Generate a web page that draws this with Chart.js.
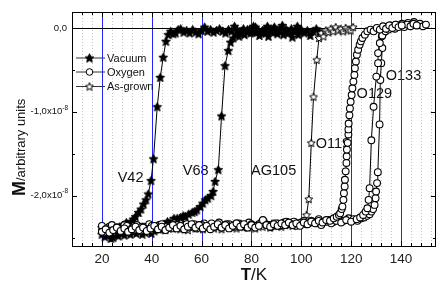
<!DOCTYPE html>
<html>
<head>
<meta charset="utf-8">
<script src="https://cdn.jsdelivr.net/npm/chart.js@4.4.1/dist/chart.umd.min.js"></script>
<style>
  html, body { margin: 0; padding: 0; background: #fff; }
  #chart { display: block; }
</style>
</head>
<body>
<canvas id="chart" width="441" height="281"></canvas>
<script>
// T in K, M in units of 1e-8 (arbitrary units)
const vacuumV42 = [[20.0,-2.38],[20.9,-2.42],[21.8,-2.39],[22.7,-2.44],[23.6,-2.41],[24.5,-2.38],[25.4,-2.43],[26.3,-2.40],[27.2,-2.37],[28.1,-2.39],[29.0,-2.35],[29.8,-2.32],[30.8,-2.34],[31.8,-2.31],[32.6,-2.28],[33.5,-2.25],[34.7,-2.20],[35.7,-2.16],[36.7,-2.10],[37.7,-2.05],[38.6,-1.98],[39.7,-1.82],[40.7,-1.56],[42.2,-0.94],[43.4,-0.59],[44.6,-0.35],[45.7,-0.16],[46.6,-0.08],[47.6,-0.04],[48.6,-0.07],[49.6,-0.06],[50.6,-0.02],[51.6,-0.01],[52.8,-0.05],[54.0,-0.03],[55.2,-0.06],[56.4,-0.02],[57.6,-0.05],[58.8,-0.07],[60.0,-0.03],[61.2,0.01],[62.4,-0.04],[63.6,-0.02],[64.8,-0.05],[66.0,-0.03],[67.2,-0.01],[68.4,-0.04],[69.6,-0.06],[70.8,-0.02],[72.0,-0.04],[73.2,0.02],[74.4,-0.03],[75.6,-0.06],[76.8,-0.01],[78.0,-0.04],[79.2,-0.02],[80.4,-0.05],[81.6,0.01],[82.8,-0.03],[84.0,-0.06],[85.2,-0.02],[86.4,0.02],[87.6,-0.04],[88.8,-0.01],[90.0,-0.05],[91.2,-0.02],[92.4,0.03],[93.6,-0.03],[94.8,-0.06],[96.0,-0.01],[97.2,-0.04],[98.4,0.02],[99.6,-0.03]];
const vacuumV68 = [[20.0,-2.46],[21.2,-2.49],[22.4,-2.47],[23.6,-2.51],[24.5,-2.50],[25.4,-2.46],[26.6,-2.48],[27.8,-2.45],[29.0,-2.47],[30.2,-2.44],[31.4,-2.46],[32.6,-2.43],[33.8,-2.45],[35.0,-2.42],[36.2,-2.46],[37.4,-2.44],[38.6,-2.41],[39.8,-2.45],[41.0,-2.42],[42.2,-2.39],[43.3,-2.40],[44.3,-2.37],[45.3,-2.34],[46.3,-2.31],[47.3,-2.32],[48.9,-2.27],[50.2,-2.27],[51.6,-2.26],[52.6,-2.24],[53.5,-2.25],[54.8,-2.22],[56.2,-2.20],[57.2,-2.19],[58.1,-2.17],[59.5,-2.13],[60.5,-2.09],[61.5,-2.05],[62.5,-2.03],[63.8,-2.00],[64.6,-1.95],[65.4,-1.83],[66.7,-1.69],[68.0,-1.05],[69.4,-0.45],[70.7,-0.27],[71.6,-0.17],[72.7,-0.12],[74.0,-0.07],[75.0,-0.10],[76.0,-0.04],[77.2,-0.08],[78.4,-0.02],[79.6,-0.06],[80.8,0.02],[82.0,-0.05],[83.2,-0.09],[84.4,-0.03],[85.6,-0.06],[86.8,-0.10],[88.0,-0.04],[89.2,0.01],[90.4,-0.07],[91.6,-0.03],[92.8,-0.08],[94.0,-0.02],[95.2,-0.05],[96.4,-0.11],[97.6,-0.04],[98.8,-0.08],[100.0,-0.02],[101.2,-0.06],[102.4,-0.03],[103.6,-0.09],[104.8,-0.04],[106.0,-0.01],[107.2,-0.05]];
const asGrownAG105 = [[20.0,-2.41],[21.5,-2.44],[23.0,-2.40],[24.5,-2.43],[26.0,-2.39],[27.5,-2.42],[29.0,-2.40],[30.5,-2.43],[32.0,-2.39],[33.5,-2.41],[35.0,-2.38],[36.5,-2.42],[38.0,-2.39],[39.5,-2.41],[41.0,-2.37],[42.5,-2.40],[44.0,-2.38],[45.5,-2.41],[47.0,-2.37],[48.5,-2.39],[50.0,-2.36],[51.5,-2.40],[53.0,-2.38],[54.5,-2.41],[56.0,-2.37],[57.5,-2.39],[59.0,-2.36],[60.5,-2.40],[62.0,-2.38],[63.5,-2.36],[65.0,-2.39],[66.5,-2.37],[68.0,-2.40],[69.5,-2.36],[71.0,-2.38],[72.5,-2.35],[74.0,-2.39],[75.5,-2.37],[77.0,-2.35],[78.5,-2.38],[80.0,-2.36],[81.5,-2.39],[83.0,-2.35],[84.5,-2.37],[86.0,-2.34],[87.5,-2.38],[89.0,-2.36],[90.5,-2.33],[92.0,-2.37],[93.5,-2.35],[95.0,-2.33],[96.5,-2.36],[98.0,-2.32],[99.5,-2.34],[100.8,-2.30],[102.1,-2.23],[103.0,-2.04],[104.0,-1.37],[104.9,-0.82],[106.2,-0.38],[107.1,-0.12],[108.0,-0.06],[108.9,-0.10],[109.8,-0.03],[110.8,-0.05],[111.8,-0.01],[112.8,-0.04],[113.8,0.01],[114.8,-0.03],[115.8,-0.01],[116.8,-0.04],[117.8,0.00],[118.8,-0.02],[119.8,-0.03],[120.8,0.01]];
const oxygenO119 = [[20.0,-2.43],[21.5,-2.40],[23.0,-2.44],[24.5,-2.41],[26.0,-2.38],[27.5,-2.42],[29.0,-2.39],[30.5,-2.43],[32.0,-2.40],[33.5,-2.37],[35.0,-2.41],[36.5,-2.38],[38.0,-2.42],[39.5,-2.39],[41.0,-2.36],[42.5,-2.40],[44.0,-2.37],[45.5,-2.41],[47.0,-2.38],[48.5,-2.35],[50.0,-2.39],[51.5,-2.36],[53.0,-2.40],[54.5,-2.37],[56.0,-2.34],[57.5,-2.38],[59.0,-2.35],[60.5,-2.39],[62.0,-2.36],[63.5,-2.40],[65.0,-2.37],[66.5,-2.34],[68.0,-2.38],[69.5,-2.35],[71.0,-2.39],[72.5,-2.36],[74.0,-2.33],[75.5,-2.37],[77.0,-2.34],[78.5,-2.38],[80.0,-2.35],[81.5,-2.38],[83.0,-2.36],[84.6,-2.29],[86.0,-2.35],[87.5,-2.37],[89.0,-2.34],[90.5,-2.36],[92.0,-2.33],[93.5,-2.35],[95.0,-2.32],[96.5,-2.35],[98.0,-2.33],[99.5,-2.36],[101.0,-2.32],[102.5,-2.34],[104.0,-2.31],[105.5,-2.33],[107.0,-2.30],[108.5,-2.32],[110.0,-2.29],[111.5,-2.30],[113.0,-2.27],[114.2,-2.25],[115.1,-2.23],[115.6,-2.21],[116.2,-2.16],[116.5,-2.13],[116.9,-2.05],[117.1,-1.97],[117.4,-1.89],[117.5,-1.81],[117.8,-1.71],[118.1,-1.61],[118.2,-1.53],[118.3,-1.45],[118.6,-1.37],[118.9,-1.27],[118.9,-1.21],[119.0,-1.14],[119.3,-1.04],[119.5,-0.96],[119.8,-0.88],[120.2,-0.80],[120.5,-0.72],[120.9,-0.64],[121.3,-0.56],[121.5,-0.48],[121.9,-0.40],[122.3,-0.32],[122.8,-0.26],[123.4,-0.20],[123.9,-0.16],[124.5,-0.12],[125.5,-0.08],[126.5,-0.04],[127.8,-0.02],[129.0,-0.04],[130.3,0.00],[131.5,-0.02],[132.8,0.02],[134.0,-0.01],[135.3,0.03],[136.5,0.00],[137.8,0.04],[139.0,0.01],[140.3,0.03]];
const oxygenO129 = [[20.0,-2.36],[22.0,-2.39],[24.0,-2.35],[26.0,-2.38],[28.0,-2.40],[30.0,-2.36],[32.0,-2.39],[34.0,-2.35],[36.0,-2.37],[38.0,-2.40],[40.0,-2.36],[42.0,-2.38],[44.0,-2.34],[46.0,-2.37],[48.0,-2.39],[50.0,-2.35],[52.0,-2.38],[54.0,-2.34],[56.0,-2.36],[58.0,-2.39],[60.0,-2.35],[62.0,-2.37],[64.0,-2.33],[66.0,-2.36],[68.0,-2.38],[70.0,-2.34],[72.0,-2.37],[74.0,-2.33],[76.0,-2.35],[78.0,-2.38],[80.0,-2.34],[82.0,-2.36],[84.0,-2.32],[86.0,-2.35],[88.0,-2.37],[90.0,-2.33],[92.0,-2.35],[94.0,-2.31],[96.0,-2.34],[98.0,-2.36],[100.0,-2.32],[102.0,-2.34],[104.0,-2.30],[106.0,-2.33],[108.0,-2.35],[110.0,-2.31],[112.0,-2.33],[114.0,-2.30],[116.0,-2.32],[118.0,-2.29],[120.0,-2.31],[122.2,-2.28],[123.6,-2.26],[124.8,-2.23],[125.8,-2.19],[126.5,-2.15],[127.0,-2.05],[127.4,-1.91],[128.1,-1.34],[129.0,-0.94],[130.1,-0.58],[130.8,-0.42],[130.8,-0.30],[131.5,-0.18],[132.5,-0.09],[133.8,-0.04],[135.0,-0.02],[136.3,0.01],[137.5,-0.01],[138.8,0.02],[140.0,0.03],[141.3,0.01],[142.5,0.04],[143.8,0.02],[145.0,0.05],[146.3,0.03]];
const oxygenO133 = [[21.0,-2.40],[23.0,-2.37],[25.0,-2.41],[27.0,-2.38],[29.0,-2.35],[31.0,-2.39],[33.0,-2.36],[35.0,-2.40],[37.0,-2.37],[39.0,-2.34],[41.0,-2.38],[43.0,-2.35],[45.0,-2.39],[47.0,-2.36],[49.0,-2.33],[51.0,-2.37],[53.0,-2.35],[55.0,-2.38],[57.0,-2.34],[59.0,-2.36],[61.0,-2.33],[63.0,-2.37],[65.0,-2.35],[67.0,-2.32],[69.0,-2.36],[71.0,-2.34],[73.0,-2.37],[75.0,-2.33],[77.0,-2.35],[79.0,-2.32],[81.0,-2.36],[83.0,-2.34],[85.0,-2.31],[87.0,-2.35],[89.0,-2.33],[91.0,-2.36],[93.0,-2.32],[95.0,-2.34],[97.0,-2.31],[99.0,-2.33],[101.0,-2.30],[103.0,-2.33],[105.0,-2.31],[107.0,-2.28],[109.0,-2.31],[111.0,-2.29],[113.0,-2.31],[115.0,-2.28],[117.0,-2.30],[119.0,-2.27],[121.0,-2.28],[122.5,-2.30],[124.0,-2.27],[125.2,-2.26],[126.4,-2.24],[127.4,-2.22],[128.1,-2.19],[128.8,-2.16],[129.4,-2.11],[129.8,-2.03],[130.0,-1.95],[130.4,-1.85],[130.7,-1.72],[131.4,-1.15],[131.7,-0.62],[132.1,-0.42],[132.5,-0.24],[132.3,-0.10],[133.2,-0.05],[134.4,0.01],[135.6,0.03],[136.8,0.00],[138.0,0.04],[139.2,0.02],[140.4,0.05],[141.6,0.03],[142.8,0.06],[144.0,0.04],[145.2,0.07],[146.4,0.03],[147.6,0.05],[148.8,0.02],[150.0,0.04]];

const xTicks = [20, 40, 60, 80, 100, 120, 140];
const yTicks = [0, -1, -2];
const legendNames = ['Vacuum', 'Oxygen', 'As-grown'];
const curveNames = ['V42', 'V68', 'AG105', 'O119', 'O129', 'O133'];
const curveNamePos = [[31.5, -1.79], [57.6, -1.70], [88.9, -1.70], [112.7, -1.38], [129.3, -0.79], [141.0, -0.57]];

const FONT = '"Liberation Sans", Arial, sans-serif';

function makeStar(rOut, rIn, fill, stroke) {
  const c = document.createElement('canvas');
  const s = Math.ceil(rOut * 2 + 3);
  c.width = c.height = s;
  const g = c.getContext('2d');
  g.beginPath();
  for (let i = 0; i < 10; i++) {
    const r = i % 2 ? rIn : rOut;
    const a = -Math.PI / 2 + i * Math.PI / 5;
    g.lineTo(s / 2 + r * Math.cos(a), s / 2 + r * Math.sin(a) + 0.4);
  }
  g.closePath();
  g.fillStyle = fill;
  g.fill();
  g.strokeStyle = stroke || fill;
  g.lineWidth = 1;
  g.stroke();
  return c;
}

const filledStar = makeStar(4.6, 2.2, '#000', null);
const openStar = makeStar(4.2, 1.9, '#fff', '#000');

function toPts(arr) {
  return arr.map(p => ({ x: p[0], y: p[1] }));
}

function series(arr, marker, order) {
  return {
    data: toPts(arr),
    showLine: true,
    borderColor: '#000',
    borderWidth: 1,
    pointStyle: marker,
    pointRadius: 3.4,
    pointBorderWidth: 1.1,
    pointBorderColor: '#000',
    pointBackgroundColor: '#fff',
    order: order
  };
}

// gridlines, frame, inner ticks, curve names
const framePlugin = {
  id: 'frame',
  beforeDatasetsDraw(chart) {
    const { ctx, chartArea: a, scales: { x, y } } = chart;
    ctx.save();
    // dotted minor grid
    ctx.strokeStyle = '#c8c8c8';
    ctx.lineWidth = 1;
    ctx.setLineDash([1, 2]);
    for (let t = 8; t <= 154; t += 4) {
      if (t % 20 === 0) continue;
      const px = Math.round(x.getPixelForValue(t)) + 0.5;
      ctx.beginPath(); ctx.moveTo(px, a.top); ctx.lineTo(px, a.bottom); ctx.stroke();
    }
    ctx.setLineDash([]);
    // names of the curves
    ctx.fillStyle = '#111';
    ctx.font = '14.5px ' + FONT;
    ctx.textAlign = 'center';
    ctx.textBaseline = 'middle';
    curveNames.forEach((n, i) => {
      ctx.fillText(n, x.getPixelForValue(curveNamePos[i][0]), y.getPixelForValue(curveNamePos[i][1]));
    });
    // blue major lines
    ctx.strokeStyle = '#2424ff';
    xTicks.forEach(t => {
      const px = Math.round(x.getPixelForValue(t)) + 0.5;
      ctx.beginPath(); ctx.moveTo(px, a.top); ctx.lineTo(px, a.bottom); ctx.stroke();
    });
    // zero line
    ctx.strokeStyle = '#000';
    const y0 = Math.round(y.getPixelForValue(0)) + 0.5;
    ctx.beginPath(); ctx.moveTo(a.left, y0); ctx.lineTo(a.right, y0); ctx.stroke();
    // frame
    ctx.strokeRect(Math.round(a.left) + 0.5, Math.round(a.top) + 0.5, Math.round(a.right - a.left) - 1, Math.round(a.bottom - a.top));
    // inward ticks
    ctx.beginPath();
    for (let t = 8; t <= 154; t += 4) {
      const px = Math.round(x.getPixelForValue(t)) + 0.5;
      const len = t % 20 === 0 ? 5 : 3;
      ctx.moveTo(px, a.bottom); ctx.lineTo(px, a.bottom - len);
      ctx.moveTo(px, a.top); ctx.lineTo(px, a.top + len);
    }
    for (let v = -2.5; v <= 0; v += 0.5) {
      const py = Math.round(y.getPixelForValue(v)) + 0.5;
      const len = Number.isInteger(v) ? 5 : 3;
      ctx.moveTo(a.left, py); ctx.lineTo(a.left + len, py);
      ctx.moveTo(a.right, py); ctx.lineTo(a.right - len, py);
    }
    ctx.stroke();
    ctx.restore();
  },
  afterDraw(chart) {
    const { ctx, chartArea: a, scales: { x, y } } = chart;
    ctx.save();
    ctx.fillStyle = '#111';
    // y tick labels with power of ten
    ctx.textBaseline = 'middle';
    yTicks.forEach(v => {
      const py = y.getPixelForValue(v);
      const main = v === 0 ? '0,0' : v.toFixed(1).replace('.', ',') + 'x10';
      const sup = v === 0 ? '' : '-8';
      ctx.font = '6.5px ' + FONT;
      const sw = sup ? ctx.measureText(sup).width : 0;
      ctx.textAlign = 'left';
      if (sup) ctx.fillText(sup, 68 - sw, py - 4);
      ctx.font = '9.5px ' + FONT;
      ctx.textAlign = 'right';
      ctx.fillText(main, (v === 0 ? 67 : 68 - sw), py);
    });
    // legend
    const rows = [57.5, 71.5, 86];
    const marks = [filledStar, 'circle', openStar];
    rows.forEach((ry, i) => {
      ctx.strokeStyle = '#333';
      ctx.lineWidth = 1;
      ctx.beginPath(); ctx.moveTo(76, ry + 0.5); ctx.lineTo(105, ry + 0.5); ctx.stroke();
      if (marks[i] === 'circle') {
        ctx.fillStyle = '#fff';
        ctx.strokeStyle = '#000';
        ctx.beginPath(); ctx.arc(89.5, ry + 0.5, 3.3, 0, Math.PI * 2); ctx.fill(); ctx.stroke();
      } else {
        const m = marks[i];
        ctx.drawImage(m, 89.5 - m.width / 2, ry + 0.5 - m.height / 2);
      }
      ctx.fillStyle = '#111';
      ctx.font = '11px ' + FONT;
      ctx.textAlign = 'left';
      ctx.textBaseline = 'middle';
      ctx.fillText(legendNames[i], 107, ry + 1);
    });
    // axis titles
    ctx.textBaseline = 'alphabetic';
    ctx.textAlign = 'left';
    ctx.font = 'bold 17px ' + FONT;
    const wT = ctx.measureText('T').width;
    ctx.font = '17px ' + FONT;
    const wK = ctx.measureText('/K').width;
    const cx = (a.left + a.right) / 2 - (wT + wK) / 2;
    ctx.font = 'bold 17px ' + FONT;
    ctx.fillText('T', cx, 280);
    ctx.font = '17px ' + FONT;
    ctx.fillText('/K', cx + wT, 280);

    ctx.translate(25, 196);
    ctx.rotate(-Math.PI / 2);
    ctx.font = 'bold 18px ' + FONT;
    ctx.fillText('M', 0, 0);
    const wM = ctx.measureText('M').width;
    ctx.font = '13px ' + FONT;
    ctx.fillText('/arbitrary units', wM, 0);
    ctx.restore();
  }
};

new Chart(document.getElementById('chart'), {
  type: 'scatter',
  data: {
    datasets: [
      series(oxygenO119, 'circle', 1),
      series(oxygenO129, 'circle', 2),
      series(oxygenO133, 'circle', 3),
      series(asGrownAG105, openStar, 4),
      series(vacuumV68, filledStar, 5),
      series(vacuumV42, filledStar, 6)
    ]
  },
  options: {
    responsive: false,
    animation: false,
    events: [],
    layout: { padding: { left: 0, right: 1, top: 12, bottom: 0 } },
    plugins: { legend: { display: false }, tooltip: { enabled: false } },
    scales: {
      x: {
        type: 'linear', min: 8, max: 154,
        grid: { display: false, drawTicks: false }, border: { display: false },
        ticks: { font: { family: FONT, size: 13.5 }, color: '#222', padding: 5, maxRotation: 0, autoSkip: false },
        afterBuildTicks: s => { s.ticks = xTicks.map(v => ({ value: v })); },
        afterFit: s => { s.height = 35; }
      },
      y: {
        type: 'linear', min: -2.6, max: 0.19,
        grid: { display: false }, border: { display: false },
        ticks: { display: false },
        afterFit: s => { s.width = 72; }
      }
    }
  },
  plugins: [framePlugin]
});
</script>
</body>
</html>
